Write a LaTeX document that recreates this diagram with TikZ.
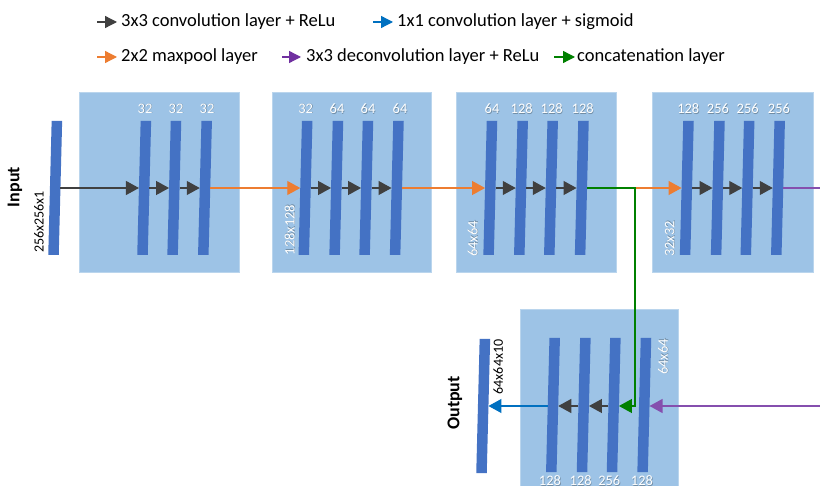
\documentclass[tikz,border=0pt]{standalone}
\usepackage{fontspec}
\setmainfont{Carlito}
\usetikzlibrary{arrows.meta}
\definecolor{boxblue}{HTML}{9DC3E6}
\definecolor{barblue}{HTML}{4472C4}
\definecolor{convgray}{HTML}{404040}
\definecolor{poolorange}{HTML}{ED7D31}
\definecolor{catgreen}{HTML}{008000}
\definecolor{sigblue}{HTML}{0070C0}
\definecolor{deconvpurple}{HTML}{7030A0}
\colorlet{shadowgray}{black!28!boxblue}
\newcommand{\unetbar}[3]{%
  \fill[barblue] (#2-5.25+1.7,#3-67) -- (#2+5.25+1.7,#3-67) -- (#2+5.25-1.7,#3+67) -- (#2-5.25-1.7,#3+67) -- cycle;
  \coordinate (#1-w) at (#2-5.25,#3);
  \coordinate (#1-e) at (#2+5.25,#3);
}
\newcommand{\shtext}[1]{\makebox[0pt][l]{\hspace{0.6pt}\raisebox{-0.6pt}{\textcolor{shadowgray}{#1}}}#1}
\newcommand{\wtext}[5][]{%
  \node[wlab, #1] (#2) at (#3,#4) {\shtext{#5}};
}
\begin{document}
\begin{tikzpicture}[x=1pt,y=-1pt,
  box/.style={fill=boxblue, draw=boxblue!70!white, line width=0.6pt, inner sep=0pt},
  wlab/.style={text=white, font=\fontsize{14.5}{14.5}\selectfont, inner sep=0pt},
  blab/.style={text=black, font=\fontsize{14}{14}\selectfont, inner sep=0pt, rotate=90},
  title/.style={font=\fontsize{18}{18}\selectfont\bfseries, inner sep=0pt, rotate=90},
  legtext/.style={font=\fontsize{18.5}{18.5}\selectfont, anchor=west, inner sep=0pt},
  tip/.style={-{Triangle[length=13pt,width=14pt]}},
  legtip/.style={line width=1.3pt, -{Triangle[length=12pt,width=12pt]}},
  conv/.style={draw=convgray, line width=1.2pt, tip},
  pool/.style={draw=poolorange, line width=1.2pt, tip},
  cat/.style={draw=catgreen, line width=1.2pt},
  sig/.style={draw=sigblue, line width=1.2pt, tip},
  deconv/.style={draw=deconvpurple!85!white, line width=1.3pt},
]
\useasboundingbox (0,0) rectangle (820,486);
\fill[white] (0,0) rectangle (820,486);

% legend
\node[legtext] (t1) at (121,22) {3x3 convolution layer + ReLu};
\node[legtext] (t2) at (397,22) {1x1 convolution layer + sigmoid};
\node[legtext] (t3) at (121,57) {2x2 maxpool layer};
\node[legtext] (t4) at (306,57) {3x3 deconvolution layer + ReLu};
\node[legtext] (t5) at (577,57) {concatenation layer};
\draw[legtip, convgray] ([xshift=-24pt]t1.west) -- ([xshift=-4pt]t1.west);
\draw[legtip, sigblue] ([xshift=-24pt]t2.west) -- ([xshift=-4pt]t2.west);
\draw[legtip, poolorange] ([xshift=-24pt]t3.west) -- ([xshift=-4pt]t3.west);
\draw[legtip, deconvpurple] ([xshift=-24pt]t4.west) -- ([xshift=-5pt]t4.west);
\draw[legtip, catgreen] ([xshift=-23pt]t5.west) -- ([xshift=-2pt]t5.west);

% boxes
\node[box, minimum width=160pt, minimum height=180pt] (box1) at (159,182) {};
\node[box, minimum width=159pt, minimum height=180pt] (box2) at (351.5,182) {};
\node[box, minimum width=160pt, minimum height=180pt] (box3) at (536,182) {};
\node[box, minimum width=161pt, minimum height=180pt] (box4) at (732.5,182) {};
\node[box, minimum width=158pt, minimum height=182pt] (box5) at (599,400) {};

% bars
\unetbar{in}{55.2}{188}
\unetbar{b11}{144.2}{188}\unetbar{b12}{174.3}{188}\unetbar{b13}{205}{188}
\unetbar{b21}{305.5}{188}\unetbar{b22}{336.3}{188}\unetbar{b23}{366.3}{188}\unetbar{b24}{396.8}{188}
\unetbar{b31}{490.3}{188}\unetbar{b32}{521}{188}\unetbar{b33}{551}{188}\unetbar{b34}{581.8}{188}
\unetbar{b41}{686.8}{188}\unetbar{b42}{717.8}{188}\unetbar{b43}{747.5}{188}\unetbar{b44}{778}{188}
\unetbar{u1}{553}{405}\unetbar{u2}{583.7}{405}\unetbar{u3}{613.7}{405}\unetbar{u4}{644.3}{405}
\unetbar{out}{483.2}{406}

% labels
\node[title] (lin) at (15,187) {Input};
\node[title] (lout) at (455,403) {Output};
\node[blab] (din) at (39,222) {256x256x1};
\node[blab] (dout) at (498.3,367) {64x64x10};
\wtext{c11}{145}{109}{32}\wtext{c12}{176}{109}{32}\wtext{c13}{207}{109}{32}
\wtext{c21}{305.7}{109}{32}\wtext{c22}{337}{109}{64}\wtext{c23}{368}{109}{64}\wtext{c24}{400}{109}{64}
\wtext{c31}{492}{109}{64}\wtext{c32}{521.7}{109}{128}\wtext{c33}{551.7}{109}{128}\wtext{c34}{582.7}{109}{128}
\wtext{c41}{688.3}{109}{128}\wtext{c42}{718}{109}{256}\wtext{c43}{747.7}{109}{256}\wtext{c44}{779}{109}{256}
\wtext{d1}{550}{481}{128}\wtext{d2}{580.7}{481}{128}\wtext{d3}{609.3}{481}{256}\wtext{d4}{642}{481}{128}
\wtext[rotate=90]{s2}{290}{230}{128x128}
\wtext[rotate=90]{s3}{473}{239}{64x64}
\wtext[rotate=90]{s4}{670}{239}{32x32}
\wtext[rotate=90]{s5}{663.3}{357}{64x64}

% connectors, top row
\draw[conv] (in-e) -- (b11-w);
\draw[conv] (b11-e) -- (b12-w);
\draw[conv] (b12-e) -- (b13-w);
\draw[pool] (b13-e) -- (b21-w);
\draw[conv] (b21-e) -- (b22-w);
\draw[conv] (b22-e) -- (b23-w);
\draw[conv] (b23-e) -- (b24-w);
\draw[pool] (b24-e) -- (b31-w);
\draw[conv] (b31-e) -- (b32-w);
\draw[conv] (b32-e) -- (b33-w);
\draw[conv] (b33-e) -- (b34-w);
\coordinate (split) at (635,188);
\coordinate (drop) at (635,406);
\draw[pool] (split) -- (b41-w);
\draw[conv] (b41-e) -- (b42-w);
\draw[conv] (b42-e) -- (b43-w);
\draw[conv] (b43-e) -- (b44-w);
\coordinate (rightA) at (821,188);
\coordinate (rightB) at (821,406);
\draw[deconv] (b44-e) -- (rightA);

% bottom row
\draw[deconv, tip] (rightB) -- (u4-e |- rightB);
\draw[cat, tip] (b34-e) -- (split) -- (drop) -- (u3-e |- drop);
\draw[conv] (u3-w |- drop) -- (u2-e |- drop);
\draw[conv] (u2-w |- drop) -- (u1-e |- drop);
\draw[sig] (u1-w |- drop) -- (out-e);
\end{tikzpicture}
\end{document}
